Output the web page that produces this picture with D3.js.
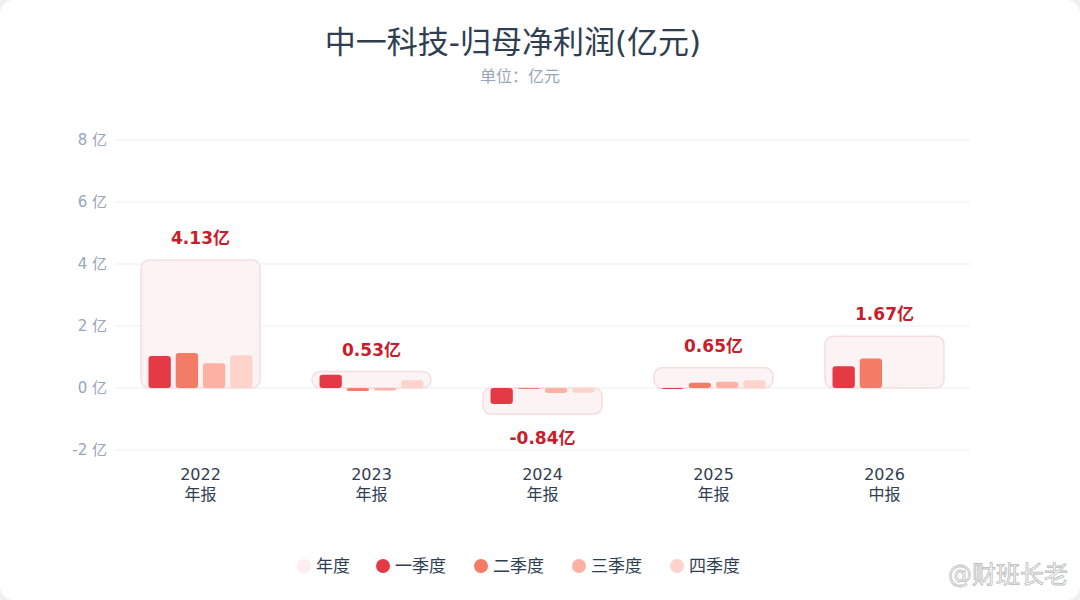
<!DOCTYPE html>
<html><head><meta charset="utf-8">
<script src="https://cdn.jsdelivr.net/npm/d3@7"></script>
<style>body{margin:0;background:#f0f0f0;font-family:"DejaVu Sans","Noto Sans CJK SC",sans-serif}</style>
</head><body><div id="chart"></div>
<script>
const years = ['2022', '2023', '2024', '2025', '2026']
const periods = ['年报', '年报', '年报', '年报', '中报']
const annual = [4.13, 0.53, -0.84, 0.65, 1.67]
const q1 = [1.03, 0.43, -0.52, -0.03, 0.70]
const q2 = [1.13, -0.10, -0.02, 0.17, 0.95]
const q3 = [0.80, -0.08, -0.16, 0.20, null]
const q4 = [1.06, 0.25, -0.15, 0.25, null]
const yTicks = [-2, 0, 2, 4, 6, 8]
const seriesNames = ['年度', '一季度', '二季度', '三季度', '四季度']
const colors = ['#fbeef0', '#e63946', '#f27c66', '#fdb1a2', '#fed3cb']

const width = 1080, height = 600
const svg = d3.select('#chart').append('svg').attr('width', width).attr('height', height)
svg.append('rect').attr('width', width).attr('height', height).attr('rx', 14).attr('fill', '#fff')

svg.append('text').attr('x', 513).attr('y', 53).attr('text-anchor', 'middle')
  .attr('font-size', 31).attr('fill', '#2f3e50').text('中一科技-归母净利润(亿元)')
svg.append('text').attr('x', 520).attr('y', 82).attr('text-anchor', 'middle')
  .attr('font-size', 16).attr('fill', '#99a5b8').text('单位：亿元')

const x = d3.scaleBand().domain(years).range([115, 970])
const y = d3.scaleLinear().domain([-2, 8]).range([450, 140])

yTicks.forEach(t => {
  svg.append('line').attr('x1', 115).attr('x2', 970).attr('y1', y(t)).attr('y2', y(t))
    .attr('stroke', '#eceef2')
  svg.append('text').attr('x', 107).attr('y', y(t) + 5).attr('text-anchor', 'end')
    .attr('font-size', 15).attr('fill', '#99a5b8').text(t + ' 亿')
})

const boxW = 119
years.forEach((yr, i) => {
  const cx = x(yr) + x.bandwidth() / 2
  const v = annual[i]
  svg.append('rect').attr('x', cx - boxW / 2).attr('width', boxW)
    .attr('y', Math.min(y(v), y(0))).attr('height', Math.abs(y(v) - y(0)))
    .attr('rx', 8).attr('fill', '#fcf3f4').attr('stroke', '#f6dde0').attr('stroke-width', 1.5)
  const ly = v >= 0 ? y(v) - 16 : y(v) + 30
  svg.append('text').attr('x', cx).attr('y', ly).attr('text-anchor', 'middle')
    .attr('font-size', 17).attr('font-weight', 'bold').attr('fill', '#c81d2a')
    .text(v.toFixed(2) + '亿')
  const qs = [q1[i], q2[i], q3[i], q4[i]]
  const bx = d3.scaleBand().domain([0, 1, 2, 3]).range([cx - 52, cx + 52]).paddingInner(0.18)
  qs.forEach((q, j) => {
    if (q == null) return
    svg.append('rect').attr('x', bx(j)).attr('width', bx.bandwidth())
      .attr('y', Math.min(y(q), y(0))).attr('height', Math.max(Math.abs(y(q) - y(0)), 1))
      .attr('rx', 3).attr('fill', colors[j + 1])
  })
  svg.append('text').attr('x', cx).attr('y', 480).attr('text-anchor', 'middle')
    .attr('font-size', 16).attr('fill', '#2f3e50').text(yr)
  svg.append('text').attr('x', cx).attr('y', 500).attr('text-anchor', 'middle')
    .attr('font-size', 16).attr('fill', '#2f3e50').text(periods[i])
})

const legX = [304, 383, 481, 579, 677]
seriesNames.forEach((n, i) => {
  svg.append('circle').attr('cx', legX[i]).attr('cy', 566).attr('r', 7).attr('fill', colors[i])
  svg.append('text').attr('x', legX[i] + 12).attr('y', 572).attr('font-size', 17)
    .attr('fill', '#2f3e50').text(n)
})
svg.append('text').attr('x', 1068).attr('y', 583).attr('text-anchor', 'end')
  .attr('font-size', 24).attr('fill', '#fff').attr('stroke', '#bbb').attr('stroke-width', 0.8)
  .text('@财班长老')
</script></body></html>
